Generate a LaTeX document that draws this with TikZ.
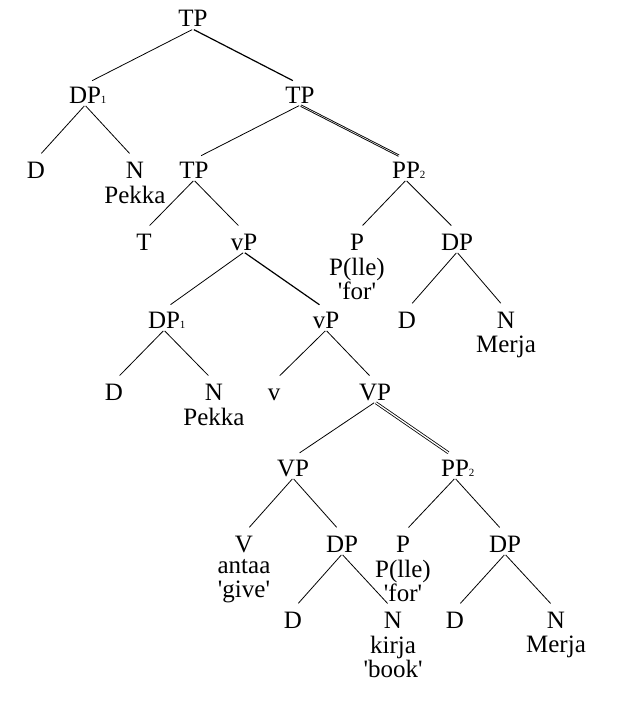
\documentclass[tikz,border=0pt]{standalone}
\usepackage{fontspec}
\setmainfont{Liberation Serif}[Ligatures=TeXOff]
\newcommand{\idx}[1]{\rlap{\fontsize{11}{11}\selectfont #1}}

\begin{document}
\begin{tikzpicture}[x=1pt, y=-1pt, every node/.style={font=\fontsize{25}{24}\selectfont}]
	
	\tikzstyle{cat} = [anchor=base, inner xsep=1pt, inner ysep=2pt, text height=16.5pt, text depth=0pt]
	\tikzstyle{word} = [inner xsep=0pt, inner ysep=5.5pt, align=center]
	\tikzstyle{branch} = [draw, line width=0.8pt, shorten <=1pt, shorten >=8pt]
	\tikzstyle{heavy} = [branch, line width=1.2pt]
	\tikzstyle{movedtight} = [branch, double, double distance=0.5pt, line width=0.9pt]
	\tikzstyle{moved} = [branch, double, double distance=1.3pt, line width=0.8pt]
	
	\useasboundingbox (0,0) rectangle (638,720);
	
	\node [cat] (tp0) at (193,27) {TP};
	\node [cat] (dp1) at (85,103) {DP\idx{1}};
	\node [cat] (tp1) at (300,103) {TP};
	\node [cat] (d1) at (36,178) {D};
	\node [cat, label={[word]below:Pekka}] (n1) at (135,178) {N};
	\node [cat] (tp2) at (194,178) {TP};
	\node [cat] (pp1) at (406,178) {PP\idx{2}};
	\node [cat] (t) at (144,250) {T};
	\node [cat] (vp1) at (244,250) {vP};
	\node [cat, label={[word]below:P(lle)\\'for'}] (p1) at (357,250) {P};
	\node [cat] (dp2) at (457,250) {DP};
	\node [cat] (dp3) at (164,328) {DP\idx{1}};
	\node [cat] (vp2) at (326,328) {vP};
	\node [cat] (d2) at (407,328) {D};
	\node [cat, label={[word]below:Merja}] (n2) at (506,328) {N};
	\node [cat] (d3) at (114,400) {D};
	\node [cat, label={[word]below:Pekka}] (n3) at (214,400) {N};
	\node [cat] (v) at (274,400) {v};
	\node [cat] (VP1) at (375,400) {VP};
	\node [cat] (VP2) at (293,476) {VP};
	\node [cat] (pp2) at (455,476) {PP\idx{2}};
	\node [cat, label={[word]below:antaa\\'give'}] (V) at (244,552) {V};
	\node [cat] (dp4) at (342,552) {DP};
	\node [cat, label={[word]below:P(lle)\\'for'}] (p2) at (403,552) {P};
	\node [cat] (dp5) at (505,552) {DP};
	\node [cat] (d4) at (293,628) {D};
	\node [cat, label={[word]below:kirja\\'book'}] (n4) at (393,628) {N};
	\node [cat] (d5) at (455,628) {D};
	\node [cat, label={[word]below:Merja}] (n5) at (556,628) {N};
	
	\path [branch] (tp0.south) -- (dp1.north);
	\path [heavy] (tp0.south) -- (tp1.north);
	\path [branch] (dp1.south) -- (d1.north);
	\path [branch] (dp1.south) -- (n1.north);
	\path [branch] (tp1.south) -- (tp2.north);
	\path [movedtight] (tp1.south) -- (pp1.north);
	\path [branch] (tp2.south) -- (t.north);
	\path [branch] (tp2.south) -- (vp1.north);
	\path [branch] (pp1.south) -- (p1.north);
	\path [branch] (pp1.south) -- (dp2.north);
	\path [branch] (vp1.south) -- (dp3.north);
	\path [heavy] (vp1.south) -- (vp2.north);
	\path [branch] (dp2.south) -- (d2.north);
	\path [branch] (dp2.south) -- (n2.north);
	\path [branch] (dp3.south) -- (d3.north);
	\path [branch] (dp3.south) -- (n3.north);
	\path [branch] (vp2.south) -- (v.north);
	\path [branch] (vp2.south) -- (VP1.north);
	\path [branch] (VP1.south) -- (VP2.north);
	\path [moved] (VP1.south) -- (pp2.north);
	\path [branch] (VP2.south) -- (V.north);
	\path [branch] (VP2.south) -- (dp4.north);
	\path [branch] (pp2.south) -- (p2.north);
	\path [branch] (pp2.south) -- (dp5.north);
	\path [branch] (dp4.south) -- (d4.north);
	\path [branch] (dp4.south) -- (n4.north);
	\path [branch] (dp5.south) -- (d5.north);
	\path [branch] (dp5.south) -- (n5.north);
\end{tikzpicture}
\end{document}
